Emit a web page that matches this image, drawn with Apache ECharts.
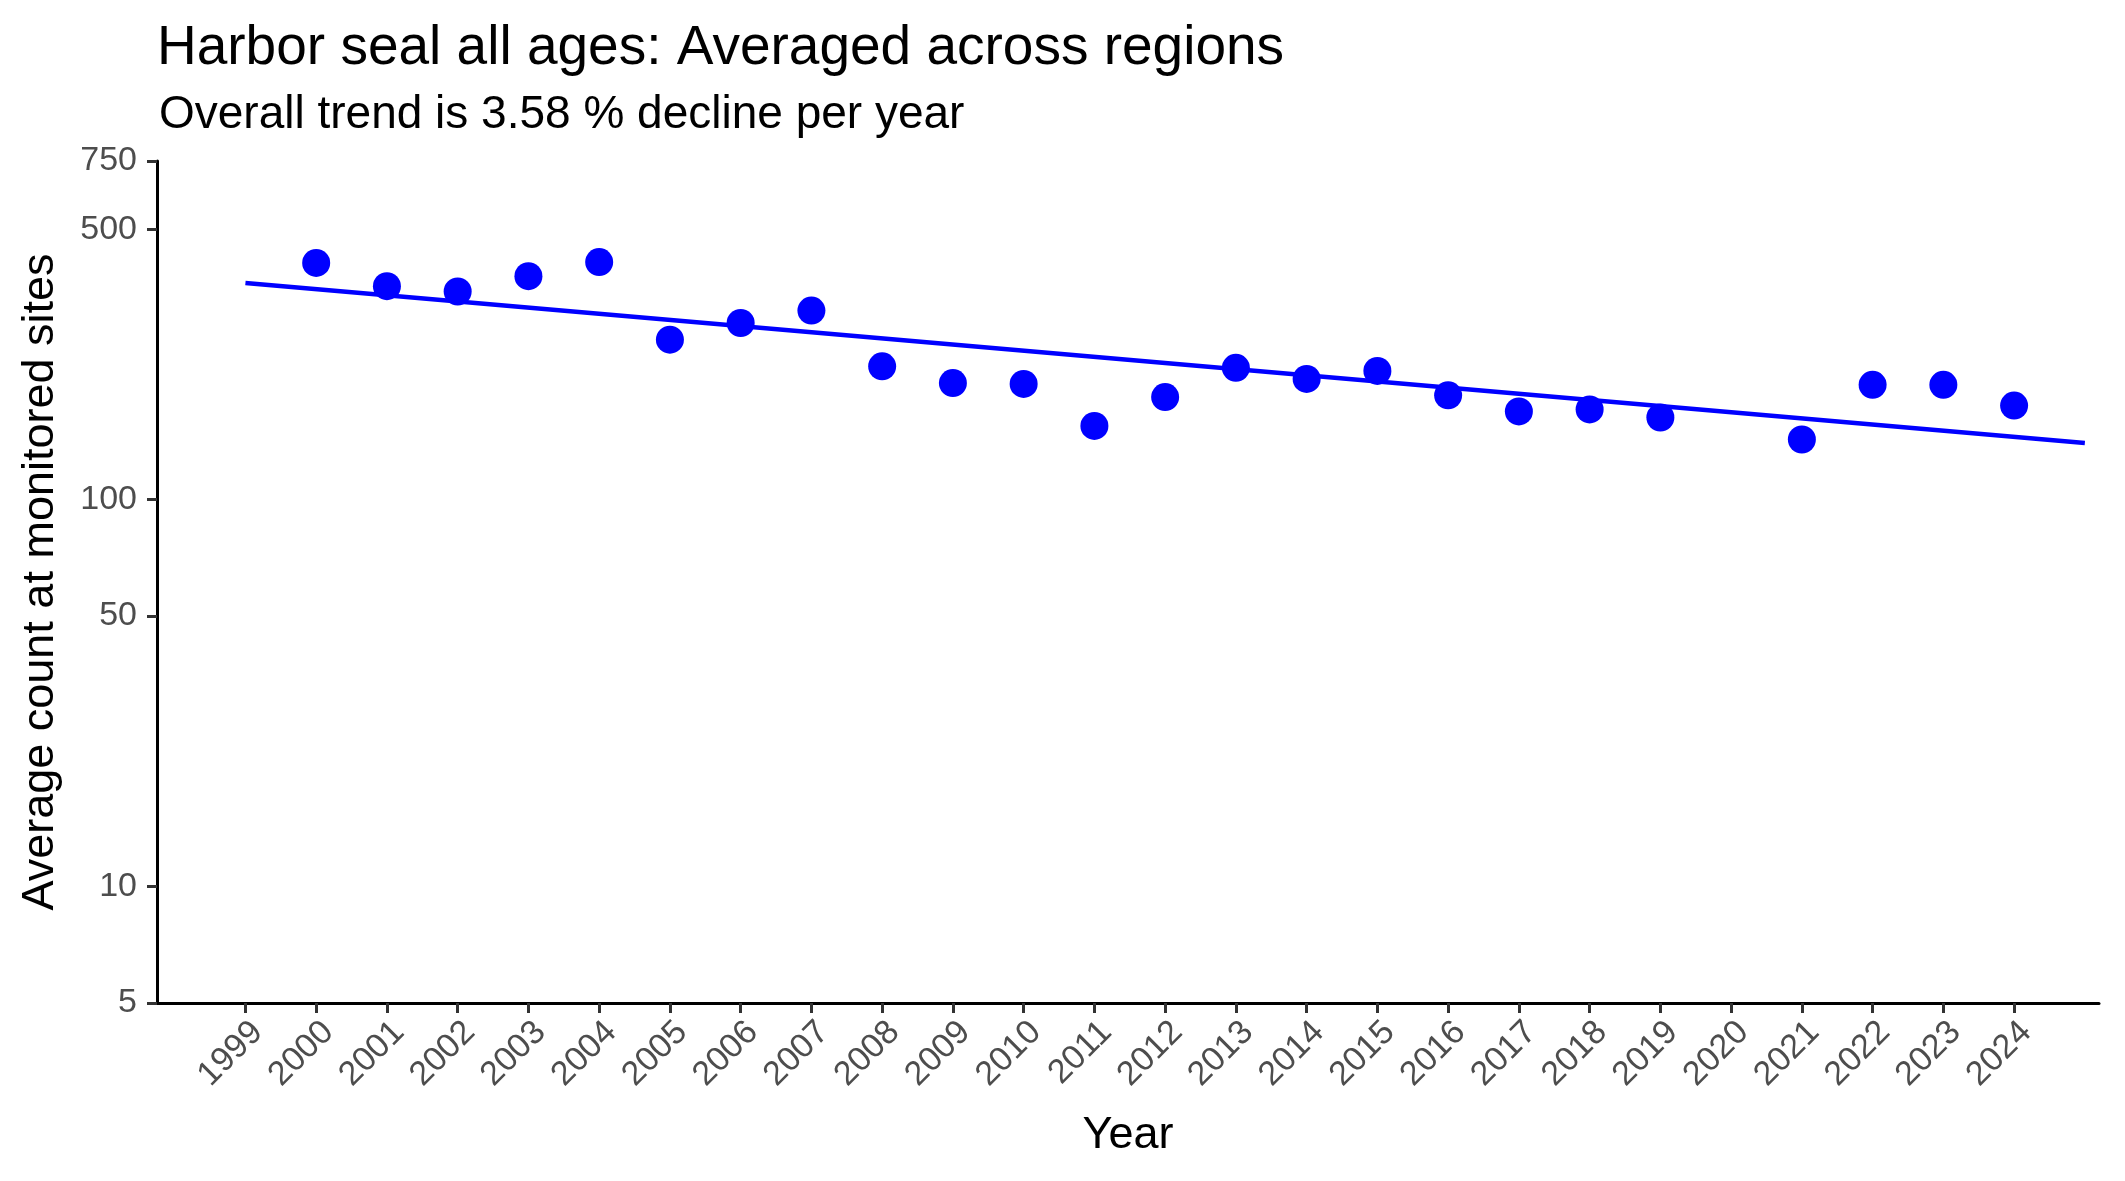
<!DOCTYPE html>
<html>
<head>
<meta charset="utf-8">
<title>Harbor seal all ages</title>
<script src="https://cdn.jsdelivr.net/npm/echarts@6/dist/echarts.min.js"></script>
<style>
  html, body { margin: 0; padding: 0; background: #fff; }
  #chart { width: 2125px; height: 1181px; }
</style>
</head>
<body>
<div id="chart"></div>
<script>
// observed yearly averages (2020 missing)
var years = [2000, 2001, 2002, 2003, 2004, 2005, 2006, 2007, 2008, 2009, 2010, 2011,
             2012, 2013, 2014, 2015, 2016, 2017, 2018, 2019, 2021, 2022, 2023, 2024];
var counts = [409, 356, 345, 378, 411, 259, 286, 308, 221, 200, 199, 155,
              184, 219, 205, 215, 186, 169, 171, 163, 143, 198, 198, 175];

// fitted trend, straight on the log scale
var trendYears = [1999, 2025];
var trendCounts = [363, 140];

// tick labels
var xTicks = [1999, 2000, 2001, 2002, 2003, 2004, 2005, 2006, 2007, 2008, 2009, 2010, 2011,
              2012, 2013, 2014, 2015, 2016, 2017, 2018, 2019, 2020, 2021, 2022, 2023, 2024];
var yTicks = [5, 10, 50, 100, 500, 750];

var FONT = 'Liberation Sans, Arial, sans-serif';

var chart = echarts.init(document.getElementById('chart'));

function pairUp(a, b){
    var out = [];
    for (var i = 0; i < a.length; i++) out.push([a[i], b[i]]);
    return out;
}
var points = pairUp(years, counts);
var trend = pairUp(trendYears, trendCounts);

var option = {
    animation: false,
    backgroundColor: '#ffffff',
    textStyle: { fontFamily: FONT },
    title: [
        {
            text: 'Harbor seal all ages: Averaged across regions',
            left: 152,
            top: 16,
            textStyle: { fontFamily: FONT, fontSize: 55, fontWeight: 'normal', color: '#000' }
        },
        {
            text: 'Overall trend is 3.58 % decline per year',
            left: 154,
            top: 87,
            textStyle: { fontFamily: FONT, fontSize: 46, fontWeight: 'normal', color: '#000' }
        }
    ],
    grid: {
        left: 157,
        right: 26,
        top: 161,
        bottom: 178,
        containLabel: false
    },
    xAxis: {
        type: 'value',
        min: 1997.75,
        max: 2025.2,
        name: 'Year',
        nameLocation: 'middle',
        nameGap: 110,
        nameTextStyle: { fontFamily: FONT, fontSize: 45, color: '#000' },
        axisLine: { onZero: false, lineStyle: { color: '#000', width: 3 } },
        axisTick: { customValues: xTicks, length: 10, lineStyle: { color: '#333', width: 3 } },
        axisLabel: {
            customValues: xTicks,
            rotate: 45,
            margin: 12,
            align: 'right',
            verticalAlign: 'top',
            fontFamily: FONT,
            fontSize: 34,
            color: '#4D4D4D',
            formatter: function(v){ return String(v); }
        },
        splitLine: { show: false }
    },
    yAxis: {
        type: 'log',
        logBase: 10,
        min: 5,
        max: 750,
        name: 'Average count at monitored sites',
        nameLocation: 'middle',
        nameGap: 94,
        nameTextStyle: { fontFamily: FONT, fontSize: 45, color: '#000' },
        axisLine: { onZero: false, lineStyle: { color: '#000', width: 3 } },
        axisTick: { customValues: yTicks, length: 10, lineStyle: { color: '#333', width: 3 } },
        axisLabel: {
            customValues: yTicks,
            margin: 20,
            fontFamily: FONT,
            fontSize: 34,
            color: '#4D4D4D',
            formatter: function(v){ return String(v); }
        },
        splitLine: { show: false },
        minorTick: { show: false }
    },
    series: [
        {
            name: 'trend',
            type: 'line',
            data: trend,
            symbol: 'none',
            lineStyle: { color: '#0000FF', width: 4.5 },
            z: 2
        },
        {
            name: 'count',
            type: 'scatter',
            data: points,
            symbol: 'circle',
            symbolSize: 28,
            itemStyle: { color: '#0000FF', opacity: 1 },
            z: 3
        }
    ]
};

chart.setOption(option);
</script>
</body>
</html>
